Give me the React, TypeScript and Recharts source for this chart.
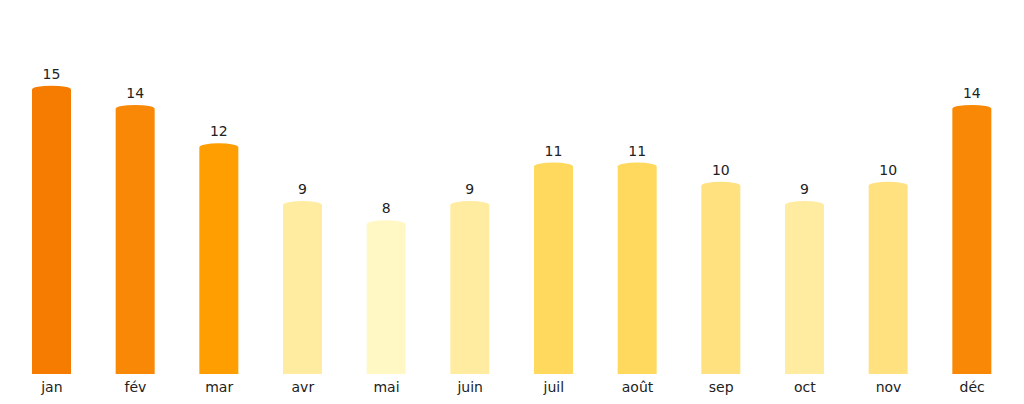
import { BarChart, Bar, XAxis, YAxis, Cell, LabelList } from 'recharts';

const MONTHS = ['jan', 'fév', 'mar', 'avr', 'mai', 'juin', 'juil', 'août', 'sep', 'oct', 'nov', 'déc'];
const VALUES = [15, 14, 12, 9, 8, 9, 11, 11, 10, 9, 10, 14];

// colour picked by value, from light yellow (low) to orange (high)
const VALUE_COLORS: Record<number, string> = {
  8: '#fff8c5',
  9: '#ffeca1',
  10: '#ffe17f',
  11: '#ffd85e',
  12: '#ff9e00',
  14: '#f98806',
  15: '#f57c00',
};

const data = MONTHS.map((month, i) => ({ month, value: VALUES[i] }));

const DomedBar = (props: any) => {
  const { x, y, width, height, fill } = props;
  const ry = 4;
  const bottom = y + height;
  const d = `M${x},${bottom} L${x},${y + ry} A${width / 2},${ry} 0 0 1 ${x + width},${y + ry} L${x + width},${bottom} Z`;
  return <path d={d} fill={fill} />;
};

const ValueLabel = (props: any) => {
  const { x, y, width, value } = props;
  return (
    <text x={x + width / 2} y={y - 7} textAnchor='middle' fontSize={14} fill='#222'>
      {value}
    </text>
  );
};

export default function App() {
  return (
    <div style={{ fontFamily: 'DejaVu Sans, sans-serif' }}>
      <BarChart
        width={1008}
        height={396}
        data={data}
        margin={{ top: 20, right: 2, bottom: 0, left: 2 }}
        barCategoryGap={0}
      >
        <XAxis
          dataKey='month'
          axisLine={false}
          tickLine={false}
          height={30}
          tickMargin={2}
          tick={{ fontSize: 14, fill: '#222' }}
          interval={0}
        />
        <YAxis hide domain={[0, 18]} />
        <Bar dataKey='value' barSize={39} shape={<DomedBar />} isAnimationActive={false}>
          {data.map((d, i) => (
            <Cell key={i} fill={VALUE_COLORS[d.value]} />
          ))}
          <LabelList dataKey='value' content={<ValueLabel />} />
        </Bar>
      </BarChart>
    </div>
  );
}
